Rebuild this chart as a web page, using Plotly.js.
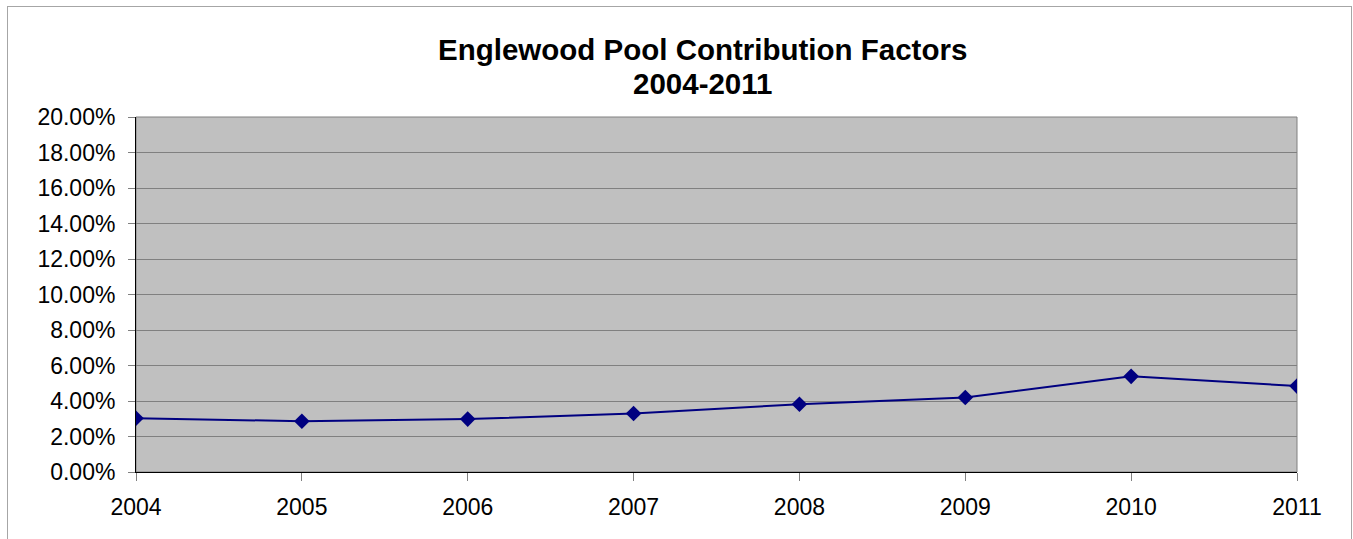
<!DOCTYPE html>
<html>
<head>
<meta charset="utf-8">
<script src="https://cdn.plot.ly/plotly-3.0.1.min.js"></script>
<style>
  html, body { margin: 0; padding: 0; background: #ffffff; }
  #wrap { position: relative; width: 1353px; height: 539px; overflow: hidden; }
  #chart { position: absolute; left: 0; top: 0; width: 1353px; height: 539px; }
  #frame { position: absolute; left: 7px; top: 6px; width: 1345px; height: 560px;
           border: 1px solid #a6a6a6; pointer-events: none; box-sizing: border-box; }
</style>
</head>
<body>
<div id="wrap">
  <div id="chart"></div>
  <div id="frame"></div>
</div>
<script>
const years = [2004, 2005, 2006, 2007, 2008, 2009, 2010, 2011];
const factors = [0.0303, 0.0286, 0.0298, 0.0330, 0.0382, 0.0420, 0.0539, 0.0484];
const yTicks = [0, 0.02, 0.04, 0.06, 0.08, 0.10, 0.12, 0.14, 0.16, 0.18, 0.20];
const titleLines = ["Englewood Pool Contribution Factors", "2004-2011"];

const font = "Arial, 'Liberation Sans', sans-serif";

const trace = {
  x: years,
  y: factors,
  type: "scatter",
  mode: "lines+markers",
  line: { color: "#000080", width: 2 },
  marker: { symbol: "diamond", size: 12, color: "#000080" },
  hoverinfo: "skip"
};

const titleFont = { family: font, size: 29.5, color: "#000000" };

const layout = {
  width: 1353,
  height: 539,
  margin: { l: 136, r: 56, t: 117, b: 67, pad: 0 },
  paper_bgcolor: "rgba(0,0,0,0)",
  plot_bgcolor: "#c0c0c0",
  showlegend: false,
  font: { family: font, color: "#000000", size: 23 },
  annotations: [
    { text: "<b>" + titleLines[0] + "</b>", xref: "paper", yref: "paper",
      x: 0.488, y: 1.189, xanchor: "center", yanchor: "middle",
      showarrow: false, font: titleFont },
    { text: "<b>" + titleLines[1] + "</b>", xref: "paper", yref: "paper",
      x: 0.488, y: 1.093, xanchor: "center", yanchor: "middle",
      showarrow: false, font: titleFont }
  ],
  xaxis: {
    range: [2004, 2011],
    tickvals: years,
    ticktext: years.map(String),
    showgrid: false,
    zeroline: false,
    showline: true, linecolor: "#000000", linewidth: 1,
    ticks: "outside", ticklen: 8, tickcolor: "#808080", tickwidth: 1,
    ticklabelstandoff: 6,
    tickfont: { family: font, size: 23, color: "#000000" },
    fixedrange: true
  },
  yaxis: {
    range: [0, 0.20],
    tickvals: yTicks,
    tickformat: ".2%",
    showgrid: true, gridcolor: "#808080", gridwidth: 1,
    zeroline: false,
    showline: true, linecolor: "#000000", linewidth: 1,
    ticks: "outside", ticklen: 7, tickcolor: "#808080", tickwidth: 1,
    ticklabelstandoff: 8,
    tickfont: { family: font, size: 23, color: "#000000" },
    fixedrange: true
  },
  shapes: [{
    type: "rect", xref: "paper", yref: "paper",
    x0: 0, x1: 1, y0: 0, y1: 1,
    line: { color: "#808080", width: 1 },
    fillcolor: "rgba(0,0,0,0)",
    layer: "below"
  }]
};

Plotly.newPlot("chart", [trace], layout, { displayModeBar: false, staticPlot: true });
</script>
</body>
</html>
